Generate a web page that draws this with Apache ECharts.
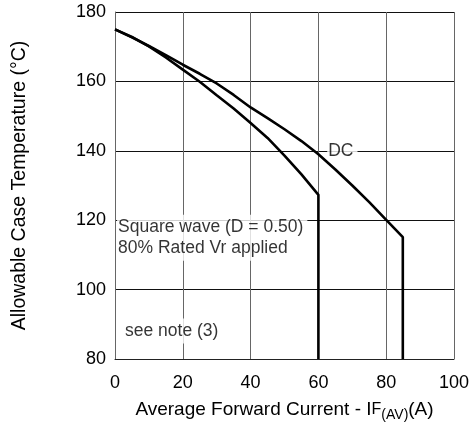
<!DOCTYPE html>
<html>
<head>
<meta charset="utf-8">
<script src="https://cdn.jsdelivr.net/npm/echarts@6/dist/echarts.min.js"></script>
<style>html,body{margin:0;padding:0;background:#fff}#c{width:472px;height:432px}</style>
</head>
<body>
<div id="c"></div>
<script>
// DC curve (Average forward current A, case temperature °C)
var dcX = [0, 5, 10, 15, 20, 25, 30, 35, 40, 45, 50, 55, 60, 65, 70, 75, 80, 84.9, 84.9];
var dcY = [175, 172.7, 170.2, 167.6, 164.8, 162.2, 159.4, 156.1, 152.5, 149.4, 146.2, 142.8, 139.0, 134.6, 130.0, 125.2, 120.1, 115.1, 80];
// Square wave (D = 0.50) curve
var sqX = [0, 5, 10, 15, 20, 25, 30, 35, 40, 45, 50, 55, 60, 60];
var sqY = [175, 172.8, 170.1, 166.9, 163.4, 159.9, 156, 152.2, 148, 143.7, 138.6, 133.2, 127.3, 80];
// Axis ticks
var xTicks = [0, 20, 40, 60, 80, 100];
var yTicks = [80, 100, 120, 140, 160, 180];
// Annotations: [x, y, text]
var notes = [
  [62.6, 143.4, 'DC'],
  [0.6, 121.6, 'Square wave (D = 0.50)\n80% Rated Vr applied'],
  [2.65, 91.7, 'see note (3)']
];

function pairs(xs, ys) { return xs.map(function (x, i) { return [x, ys[i]]; }); }

var font = 'Liberation Sans, Arial, sans-serif';
var chart = echarts.init(document.getElementById('c'), null, {renderer: 'canvas'});
chart.setOption({
  animation: false,
  backgroundColor: '#fff',
  textStyle: {fontFamily: font},
  grid: {left: 115, right: 18, top: 12, bottom: 73, outerBoundsMode: 'none', containLabel: false},
  xAxis: {
    type: 'value', min: xTicks[0], max: xTicks[xTicks.length - 1], interval: 20,
    axisLine: {show: true, lineStyle: {color: '#222', width: 1}},
    axisTick: {show: false},
    axisLabel: {color: '#000', fontSize: 18, margin: 15, fontFamily: font},
    splitLine: {show: true, lineStyle: {color: '#666', width: 1}},
    name: 'Average Forward Current - I{f|F}{s|(AV)}(A)',
    nameLocation: 'middle', nameGap: 38,
    nameTextStyle: {color: '#000', fontSize: 19, fontFamily: font,
      rich: {f: {fontSize: 16, color: '#000', fontFamily: font},
             s: {fontSize: 14, color: '#000', fontFamily: font, padding: [11, 0, 0, 0]}}}
  },
  yAxis: {
    type: 'value', min: yTicks[0], max: yTicks[yTicks.length - 1], interval: 20,
    axisLine: {show: true, lineStyle: {color: '#666', width: 1}},
    axisTick: {show: false},
    axisLabel: {color: '#000', fontSize: 18, margin: 9, fontFamily: font},
    splitLine: {show: true, lineStyle: {color: '#111', width: 1}},
    name: 'Allowable Case Temperature (°C)',
    nameLocation: 'middle', nameGap: 85,
    nameTextStyle: {color: '#000', fontSize: 19.5, fontFamily: font}
  },
  series: [
    {type: 'line', data: pairs(dcX, dcY), showSymbol: false, symbol: 'none', smooth: false,
     lineStyle: {color: '#000', width: 2.6}, z: 3},
    {type: 'line', data: pairs(sqX, sqY), showSymbol: false, symbol: 'none', smooth: false,
     lineStyle: {color: '#000', width: 2.6}, z: 3},
    {type: 'scatter', symbolSize: 0, z: 2,
     data: notes.map(function (n) { return {value: [n[0], n[1]], name: n[2]}; }),
     label: {show: true, position: [0, 0], align: 'left', verticalAlign: 'top',
       formatter: function (p) { return p.name; },
       color: '#000', fontSize: 17.5, lineHeight: 21, fontFamily: font,
       backgroundColor: '#fff', padding: [2, 4, 2, 1]}}
  ]
});
</script>
</body>
</html>
